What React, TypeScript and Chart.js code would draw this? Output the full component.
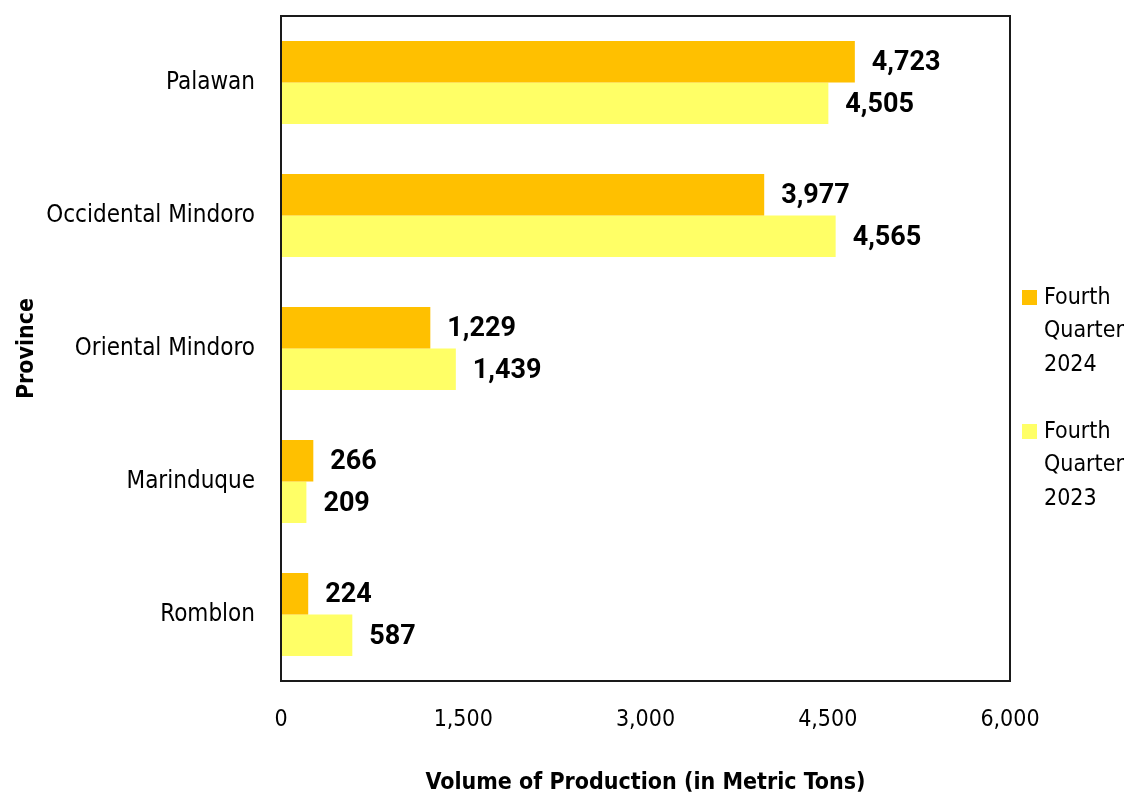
import React, { useEffect, useRef } from "react";
import { Chart, registerables } from "chart.js";

Chart.register(...registerables);

const provinces = ["Palawan", "Occidental Mindoro", "Oriental Mindoro", "Marinduque", "Romblon"];
const q4_2024 = [4723, 3977, 1229, 266, 224];
const q4_2023 = [4505, 4565, 1439, 209, 587];
const seriesNames = [["Fourth", "Quarter", "2024"], ["Fourth", "Quarter", "2023"]];
const seriesColors = ["#FFC000", "#FFFF66"];
const xTicks = [0, 1500, 3000, 4500, 6000];

const NARROW = "'DejaVu Sans Condensed', 'Liberation Sans Narrow', sans-serif";

const framePlugin = {
  id: "frame",
  afterDatasetsDraw(chart: any) {
    const { ctx, chartArea } = chart;
    ctx.save();
    ctx.strokeStyle = "#1a1a1a";
    ctx.lineWidth = 2;
    ctx.strokeRect(chartArea.left, chartArea.top, chartArea.right - chartArea.left, chartArea.bottom - chartArea.top);
    ctx.restore();
  },
};

const labelPlugin = {
  id: "valueLabels",
  afterDatasetsDraw(chart: any) {
    const { ctx } = chart;
    ctx.save();
    ctx.font = "bold 27px Roboto, sans-serif";
    ctx.fillStyle = "#000";
    ctx.textAlign = "left";
    ctx.textBaseline = "middle";
    chart.data.datasets.forEach((ds: any, i: number) => {
      const meta = chart.getDatasetMeta(i);
      meta.data.forEach((bar: any, j: number) => {
        const v = ds.data[j] as number;
        ctx.fillText(v.toLocaleString("en-US"), bar.x + 17, bar.y + 2);
      });
    });
    ctx.restore();
  },
};

const legendPlugin = {
  id: "sideLegend",
  afterDraw(chart: any) {
    const { ctx, chartArea } = chart;
    ctx.save();
    ctx.font = `23px ${NARROW}`;
    ctx.textBaseline = "middle";
    ctx.textAlign = "left";
    const x0 = chartArea.right + 12;
    const starts = [298, 432];
    seriesNames.forEach((lines, i) => {
      const y = starts[i];
      ctx.fillStyle = seriesColors[i];
      ctx.fillRect(x0, y - 8, 15, 15);
      ctx.fillStyle = "#000";
      lines.forEach((t, k) => ctx.fillText(t, x0 + 22, y + k * 33.5));
    });
    ctx.restore();
  },
};

export default function App() {
  const ref = useRef<HTMLCanvasElement | null>(null);
  useEffect(() => {
    document.body.style.margin = "0";
    if (!ref.current) return;
    const chart = new Chart(ref.current, {
      type: "bar",
      data: {
        labels: provinces,
        datasets: [
          { label: "Fourth Quarter 2024", data: q4_2024, backgroundColor: seriesColors[0], barPercentage: 1, categoryPercentage: 0.625 },
          { label: "Fourth Quarter 2023", data: q4_2023, backgroundColor: seriesColors[1], barPercentage: 1, categoryPercentage: 0.625 },
        ],
      },
      options: {
        indexAxis: "y",
        animation: false,
        responsive: true,
        maintainAspectRatio: false,
        layout: { padding: { top: 16, right: 118, bottom: 0, left: 0 } },
        plugins: { legend: { display: false }, tooltip: { enabled: false } },
        scales: {
          x: {
            min: 0,
            max: 6000,
            afterBuildTicks: (scale: any) => {
              scale.ticks = xTicks.map((v) => ({ value: v }));
            },
            afterFit: (scale: any) => {
              scale.height = 115;
              scale.paddingLeft = 0;
              scale.paddingRight = 0;
            },
            grid: { display: false },
            border: { display: false },
            ticks: {
              color: "#000",
              padding: 17,
              font: { family: NARROW, size: 23 },
              callback: (v: any) => Number(v).toLocaleString("en-US"),
              maxRotation: 0,
            },
            title: {
              display: true,
              text: "Volume of Production (in Metric Tons)",
              color: "#000",
              font: { family: NARROW, size: 23, weight: "bold", lineHeight: 1 },
              padding: { top: 0, bottom: 1 },
            },
          },
          y: {
            afterFit: (scale: any) => {
              scale.width = 281;
              scale.paddingTop = 0;
              scale.paddingBottom = 0;
            },
            grid: { display: false },
            border: { display: false },
            ticks: {
              color: "#000",
              padding: 18,
              font: { family: NARROW, size: 24 },
            },
            title: {
              display: true,
              text: "Province",
              color: "#000",
              font: { family: NARROW, size: 23, weight: "bold", lineHeight: 1 },
              padding: { top: 16, bottom: 0 },
            },
          },
        },
      },
      plugins: [framePlugin, labelPlugin, legendPlugin],
    });
    return () => chart.destroy();
  }, []);
  return (
    <div style={{ width: 1128, height: 796, position: "relative" }}>
      <canvas ref={ref} />
    </div>
  );
}
